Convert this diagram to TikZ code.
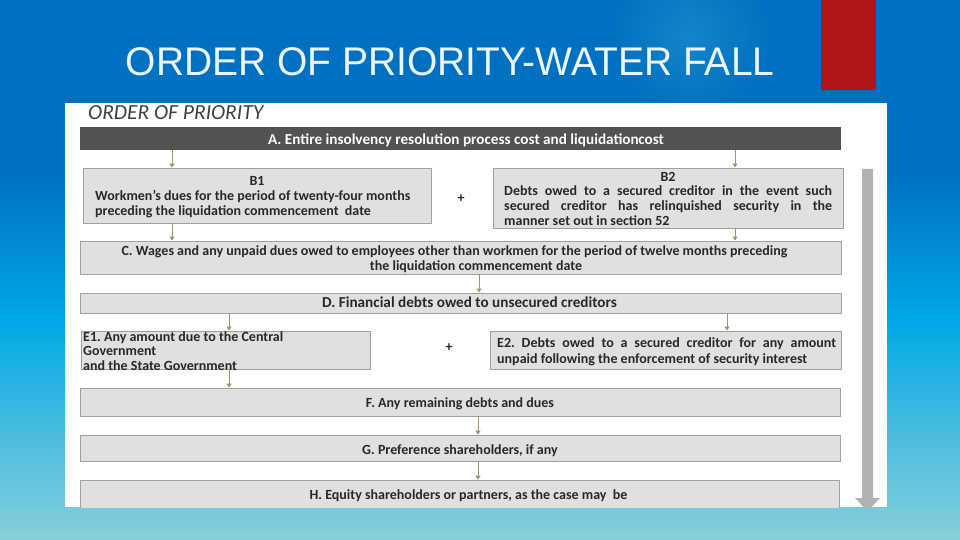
\documentclass[tikz,border=0pt]{standalone}
\usepackage{fontspec}
\setmainfont{Carlito}
\newfontfamily\titlefont{Liberation Sans}
\usetikzlibrary{arrows.meta,calc}
\definecolor{bgtop}{RGB}{0,112,192}
\definecolor{bgmid}{RGB}{0,170,230}
\definecolor{bgmid2}{RGB}{80,190,222}
\definecolor{bgbot}{RGB}{135,208,218}
\definecolor{glow}{RGB}{22,132,203}
\definecolor{redbar}{RGB}{176,22,22}
\definecolor{boxfill}{RGB}{224,224,224}
\definecolor{boxline}{RGB}{160,160,160}
\definecolor{darkbox}{RGB}{82,82,82}
\definecolor{arrcol}{RGB}{160,150,100}
\definecolor{txtcol}{RGB}{40,40,40}
\definecolor{bigarr}{RGB}{178,178,178}
\definecolor{titlecol}{RGB}{235,245,252}
% TikZ maps the path onto the middle band (25bp..75bp) of the shading
\pgfdeclareverticalshading{slidebg}{100bp}{color(0bp)=(bgbot); color(25bp)=(bgbot); color(34bp)=(bgmid2); color(45bp)=(bgmid); color(59bp)=(bgtop); color(75bp)=(bgtop); color(100bp)=(bgtop)}
\tikzset{
  box/.style={draw=boxline, line width=0.9pt, fill=boxfill, inner sep=0pt, rectangle},
  darkrect/.style={fill=darkbox, inner sep=0pt, rectangle},
  txt/.style={inner sep=0pt, text=txtcol, font=\bfseries\frenchspacing\fontsize{14}{15}\selectfont},
  bigtxt/.style={txt, font=\bfseries\frenchspacing\fontsize{15.2}{16}\selectfont},
  arr/.style={draw=arrcol, line width=1pt, -{Triangle[width=5pt,length=4pt]}},
}
\begin{document}
\begin{tikzpicture}[x=1pt,y=-1pt]
\useasboundingbox (0,0) rectangle (960,540);
\shade[shading=slidebg] (0,0) rectangle (960,540);
\shade[inner color=glow, outer color=bgtop] (690,35) circle (80);
\fill[redbar] (821,0) rectangle (876,90);
\node[inner sep=0pt, text=titlecol, font=\titlefont\fontsize{40}{42}\selectfont, anchor=base, xscale=0.975] (title) at (450,76) {ORDER OF PRIORITY-WATER FALL};
% white panel
\fill[white] (65,103) rectangle (887,507);
\begin{scope}
\clip (65,103) rectangle (887,507);
\node[inner sep=0pt, text=black!75, font=\itshape\fontsize{21.5}{24}\selectfont, anchor=base west] (hdr) at (88,119.5) {ORDER OF PRIORITY};
% boxes
\node[darkrect, minimum width=761pt, minimum height=23pt] (A) at (460.5,138.5) {};
\node[box, minimum width=348pt, minimum height=55pt] (B1) at (257,195.5) {};
\node[box, minimum width=350pt, minimum height=60pt] (B2) at (668,198) {};
\node[box, minimum width=761pt, minimum height=33pt] (C) at (460.5,257.5) {};
\node[box, minimum width=761pt, minimum height=20pt] (D) at (460.5,303) {};
\node[box, minimum width=289pt, minimum height=38pt] (E1) at (225.5,350) {};
\node[box, minimum width=351pt, minimum height=38pt] (E2) at (665.5,350) {};
\node[box, minimum width=760pt, minimum height=28pt] (F) at (460,402) {};
\node[box, minimum width=760pt, minimum height=26pt] (G) at (460,448) {};
\node[box, minimum width=759pt, minimum height=32pt] (H) at (459.5,496) {};
% texts
\node[bigtxt, text=white, anchor=mid] (tA) at (466,142) {A. Entire insolvency resolution process cost and liquidation\kern-0.5pt cost};
\node[txt, anchor=mid] (tB1a) at (257,183) {B1};
\node[txt, anchor=mid west] (tB1b) at (95,198) {Workmen’s dues for the period of twenty-four months};
\node[txt, anchor=mid west] (tB1c) at (95,213) {preceding the liquidation commencement\ \ date};
\node[txt, anchor=mid] (plus1) at (461,200) {+};
\node[txt, anchor=mid] (tB2a) at (668,179) {B2};
\node[txt, anchor=mid west] (tB2b) at (504,193) {\makebox[328pt][s]{Debts owed to a secured creditor in the event such}};
\node[txt, anchor=mid west] (tB2c) at (504,208) {\makebox[328pt][s]{secured creditor has relinquished security in the}};
\node[txt, anchor=mid west] (tB2d) at (504,223) {manner set out in section 52};
\node[txt, anchor=mid] (tC1) at (454.5,253) {C. Wages and any unpaid dues owed to employees other than workmen for the period of twelve months preceding};
\node[txt, anchor=mid] (tC2) at (476,268) {the liquidation commencement date};
\node[bigtxt, anchor=mid] (tD) at (469.5,305.5) {D. Financial debts owed to unsecured creditors};
\node[txt, anchor=mid west] (tE1a) at (83,339) {E1. Any amount due to the Central};
\node[txt, anchor=mid west] (tE1b) at (83,353) {Government};
\node[txt, anchor=mid west] (tE1c) at (83,368.5) {and the State Government};
\node[txt, anchor=mid] (plus2) at (449,349) {+};
\node[txt, anchor=mid west] (tE2a) at (497,345) {\makebox[339pt][s]{E2. Debts owed to a secured creditor for any amount}};
\node[txt, anchor=mid west] (tE2b) at (497,361) {unpaid following the enforcement of security interest};
\node[txt, anchor=mid] (tF) at (460,405) {F. Any remaining debts and dues};
\node[txt, anchor=mid] (tG) at (460,452) {G. Preference shareholders, if any};
\node[txt, anchor=mid] (tH) at (468.5,497) {H. Equity shareholders or partners, as the case may\ \ be};
% connectors
\coordinate (xa) at (172,0);
\coordinate (xb) at (735,0);
\coordinate (xc) at (479,0);
\coordinate (xd) at (229,0);
\coordinate (xe) at (727,0);
\coordinate (xf) at (478,0);
\draw[arr] (A.south -| xa) -- (B1.north -| xa);
\draw[arr] (A.south -| xb) -- (B2.north -| xb);
\draw[arr] (B1.south -| xa) -- (C.north -| xa);
\draw[arr] (B2.south -| xb) -- (C.north -| xb);
\draw[arr] (C.south -| xc) -- (D.north -| xc);
\draw[arr] (D.south -| xd) -- (E1.north -| xd);
\draw[arr] (D.south -| xe) -- (E2.north -| xe);
\draw[arr] (E1.south -| xd) -- (F.north -| xd);
\draw[arr] (F.south -| xf) -- (G.north -| xf);
\draw[arr] (G.south -| xf) -- (H.north -| xf);
% big gray arrow
\fill[bigarr] (862,169) -- (873,169) -- (873,498) -- (880,498) -- (867.5,511) -- (855,498) -- (862,498) -- cycle;
\end{scope}
\end{tikzpicture}
\end{document}
